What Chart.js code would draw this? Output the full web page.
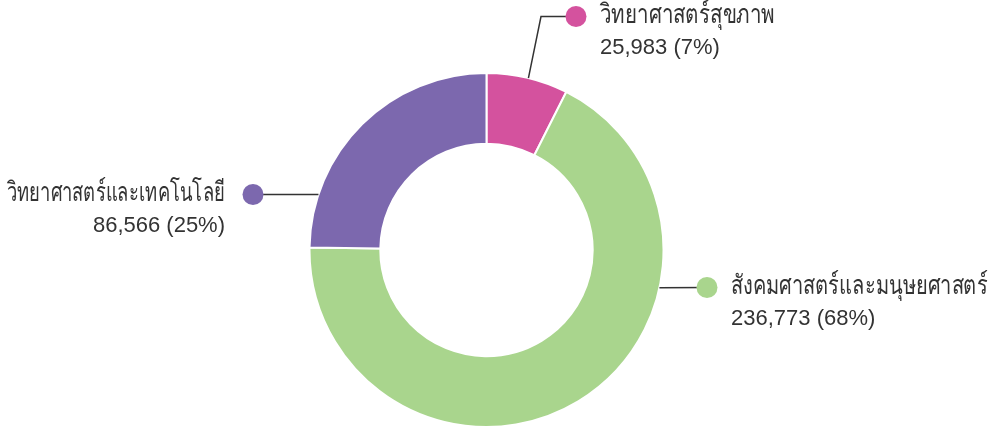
<!DOCTYPE html>
<html>
<head>
<meta charset="utf-8">
<script src="https://cdn.jsdelivr.net/npm/chart.js@4.4.1/dist/chart.umd.min.js"></script>
<style>
  html, body { margin: 0; padding: 0; background: #fff; }
  #wrap { width: 993px; height: 429px; }
</style>
</head>
<body>
<div id="wrap"><canvas id="myChart"></canvas></div>
<script>
const categories = ["วิทยาศาสตร์สุขภาพ", "สังคมศาสตร์และมนุษยศาสตร์", "วิทยาศาสตร์และเทคโนโลยี"];
const values = [25983, 236773, 86566];
const percents = ["7%", "68%", "25%"];
const colors = ['#d4529e', '#a9d58d', '#7c68ae'];

// where each callout leaves the ring (deg from top, clockwise), where its dot sits
// relative to the centre, and how wide the (narrow-faced) name may be
const callouts = [
    { angle: 13.7, elbow: [54.5, -233.5], dot: [89.5, -233.5], side: 'right', nameWidth: 175 },
    { angle: 102.3, elbow: null, dot: [220.5, 37.5], side: 'right', nameWidth: 257 },
    { angle: 288.3, elbow: null, dot: [-233.5, -55.5], side: 'left', nameWidth: 218 }
];

const fmt = n => n.toLocaleString('en-US');

const calloutPlugin = {
    id: 'callouts',
    afterDatasetsDraw(chart) {
        const ctx = chart.ctx;
        const arc = chart.getDatasetMeta(0).data[0];
        const cx = arc.x, cy = arc.y, r = arc.outerRadius;
        ctx.save();
        callouts.forEach((c, i) => {
            const a = (c.angle - 90) * Math.PI / 180;
            const sx = cx + r * Math.cos(a), sy = cy + r * Math.sin(a);
            const dx = cx + c.dot[0], dy = cy + c.dot[1];
            ctx.strokeStyle = '#333';
            ctx.lineWidth = 1.5;
            ctx.beginPath();
            ctx.moveTo(sx, sy);
            if (c.elbow) ctx.lineTo(cx + c.elbow[0], cy + c.elbow[1]);
            ctx.lineTo(dx, dy);
            ctx.stroke();
            ctx.fillStyle = colors[i];
            ctx.beginPath();
            ctx.arc(dx, dy, 10.5, 0, Math.PI * 2);
            ctx.fill();
            ctx.fillStyle = '#333';
            ctx.textBaseline = 'middle';
            let tx;
            if (c.side === 'right') { ctx.textAlign = 'left'; tx = dx + 24; }
            else { ctx.textAlign = 'right'; tx = dx - 28; }
            ctx.font = '27px "Liberation Sans", "Noto Sans", sans-serif';
            ctx.fillText(categories[i], tx, dy - 1, c.nameWidth);
            ctx.font = '22px "Liberation Sans", "Noto Sans", sans-serif';
            ctx.fillText(fmt(values[i]) + ' (' + percents[i] + ')', tx, dy + 31);
        });
        ctx.restore();
    }
};

const ctx = document.getElementById('myChart').getContext('2d');
const myChart = new Chart(ctx, {
    type: 'doughnut',
    data: {
        labels: categories,
        datasets: [{
            data: values,
            backgroundColor: colors,
            borderColor: '#fff',
            borderWidth: 2
        }]
    },
    options: {
        responsive: true,
        maintainAspectRatio: false,
        animation: false,
        cutout: '60%',
        layout: { padding: { top: 72, bottom: 1, left: 0, right: 20 } },
        plugins: {
            legend: { display: false },
            tooltip: { enabled: false }
        }
    },
    plugins: [calloutPlugin]
});
</script>
</body>
</html>
